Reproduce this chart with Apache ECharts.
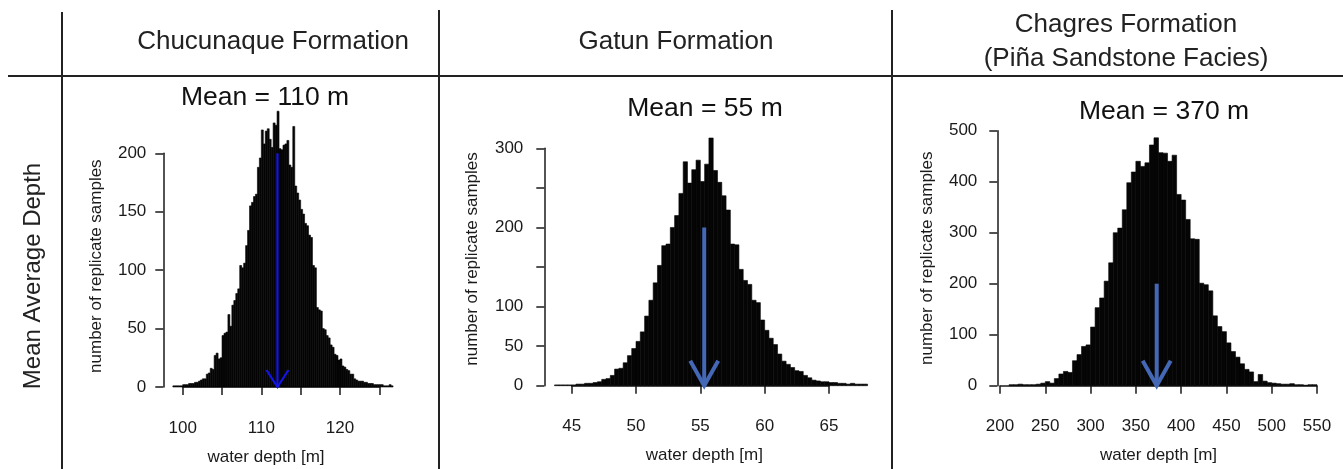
<!DOCTYPE html>
<html><head><meta charset="utf-8">
<script src="https://cdn.jsdelivr.net/npm/echarts@6/dist/echarts.min.js"></script>
<style>html,body{margin:0;padding:0;background:#fff}#c{width:1343px;height:469px}</style>
</head><body><div id="c"></div><script>
// ---------------- data ----------------
const panelHeaders = ['Chucunaque Formation', 'Gatun Formation', 'Chagres Formation\n(Piña Sandstone Facies)'];
const meanLabels = ['Mean = 110 m', 'Mean = 55 m', 'Mean = 370 m'];
const rowLabel = 'Mean Average Depth';
const xTitle = 'water depth [m]';
const yTitle = 'number of replicate samples';

const chucBinStart = 98.75, chucBinWidth = 0.25;
const chucCounts = [1,1,1,1,1, 2,2,2,3,3, 3,4,4,5,6, 7,7,11,12,16, 15,27,29,24,25,
  44,46,47,62,52, 70,74,80,84,104, 102,106,121,134,155, 158,163,165,188,196,
  220,208,219,221,212, 205,226,224,236,204, 203,207,208,211,190, 188,223,172,166,160,
  152,148,140,138,130, 128,104,102,68,66, 65,50,49,44,42, 36,34,28,27,23,
  24,18,17,15,14, 11,11,7,6,5, 5,5,4,4,3, 3,3,2,2,2, 2,2,1,1,1, 2,1];
const gatunBinStart = 43.667, gatunBinWidth = 0.3333;
const gatunCounts = [1,1,1,1,1, 2,2,3,3,4, 5,8,9,13,21, 22,29,38,47,56,
  68,88,108,130,152, 177,179,200,215,243, 283,256,273,285,258, 280,313,272,257,240,
  222,179,178,147,133, 128,108,105,83,70, 60,52,40,31,27, 23,19,18,13,10,
  7,6,5,5,4, 4,3,3,2,3, 2,2,2];
const chagresBinStart = 210, chagresBinWidth = 5;
const chagresCounts = [2,2,3,2,2, 2,3,5,8,5, 14,23,28,26,49, 61,77,80,115,153,
  172,205,241,300,309, 345,398,419,440,430, 437,472,486,457,456, 440,452,375,364,326,
  288,287,201,198,186, 137,116,106,84,67, 56,43,32,27,8, 22,9,6,5,4, 3,3,4,2,2, 1,2,2];

const chucArrow = [112.05, 200];
const gatunArrow = [55.3, 200];
const chagresArrow = [373, 200];

const chucXTicks = [100, 105, 110, 115, 120, 125];
const chucXLabels = [100, 110, 120];
const chucYTicks = [0, 50, 100, 150, 200];
const gatunXTicks = [45, 50, 55, 60, 65];
const gatunYTicks = [0, 50, 100, 150, 200, 250, 300];
const gatunYLabels = [0, 50, 100, 200, 300];
const chagresXTicks = [200, 250, 300, 350, 400, 450, 500, 550];
const chagresYTicks = [0, 100, 200, 300, 400, 500];

// ---------------- layout / style ----------------
const FONT = '"Liberation Sans", Arial, sans-serif';
const INK = '#1a1a1a';
const panels = [
  {grid: {left: 182.7, top: 153.3, width: 196.6, height: 233.7}, xTicks: chucXTicks, xLabels: chucXLabels,
   yTicks: chucYTicks, yLabels: chucYTicks, xOff: 12, yOff: 19.4, yMargin: 17, yNameGap: 58,
   xNamePad: [0, 30, 0, 0], yNamePad: [0, 0, 0, 8],
   start: chucBinStart, bw: chucBinWidth, counts: chucCounts, arrow: chucArrow,
   arrowColor: '#1414e6', arrowW: 2.2, headW: 11, headH: 17},
  {grid: {left: 571.7, top: 148.3, width: 257.3, height: 239.7}, xTicks: gatunXTicks, xLabels: gatunXTicks,
   yTicks: gatunYTicks, yLabels: gatunYLabels, xOff: 11.3, yOff: 27.4, yMargin: 21, yNameGap: 63,
   xNamePad: [0, 0, 0, 8], yNamePad: [0, 0, 0, 16],
   start: gatunBinStart, bw: gatunBinWidth, counts: gatunCounts, arrow: gatunArrow,
   arrowColor: '#4468b6', arrowW: 4, headW: 14, headH: 25},
  {grid: {left: 1000, top: 130.7, width: 317, height: 257.3}, xTicks: chagresXTicks, xLabels: chagresXTicks,
   yTicks: chagresYTicks, yLabels: chagresYTicks, xOff: 11.3, yOff: 2.7, yMargin: 20, yNameGap: 61,
   xNamePad: [0, 0, 0, 0], yNamePad: [0, 0, 0, 0],
   start: chagresBinStart, bw: chagresBinWidth, counts: chagresCounts, arrow: chagresArrow,
   arrowColor: '#4468b6', arrowW: 4, headW: 14, headH: 25}
];

const axisText = {color: INK, fontSize: 17, fontFamily: FONT};
const grids = [], xAxes = [], yAxes = [], series = [];
panels.forEach((p, i) => {
  grids.push(Object.assign({containLabel: false}, p.grid));
  xAxes.push({
    type: 'value', gridIndex: i, min: p.xTicks[0], max: p.xTicks[p.xTicks.length - 1],
    interval: p.xTicks[1] - p.xTicks[0], offset: p.xOff,
    axisLine: {show: true, lineStyle: {color: INK, width: 1.5}},
    axisTick: {show: true, length: 8, lineStyle: {color: INK, width: 1.5}},
    splitLine: {show: false},
    axisLabel: Object.assign({margin: 21, showMinLabel: true, showMaxLabel: true,
      formatter: v => p.xLabels.indexOf(v) >= 0 ? String(v) : ''}, axisText),
    name: xTitle, nameLocation: 'middle', nameGap: 50,
    nameTextStyle: Object.assign({padding: p.xNamePad}, axisText)
  });
  yAxes.push({
    type: 'value', gridIndex: i, min: p.yTicks[0], max: p.yTicks[p.yTicks.length - 1],
    interval: p.yTicks[1] - p.yTicks[0], offset: p.yOff,
    axisLine: {show: true, lineStyle: {color: INK, width: 1.5}},
    axisTick: {show: true, length: 8, lineStyle: {color: INK, width: 1.5}},
    splitLine: {show: false},
    axisLabel: Object.assign({margin: p.yMargin, showMinLabel: true, showMaxLabel: true,
      formatter: v => p.yLabels.indexOf(v) >= 0 ? String(v) : ''}, axisText),
    name: yTitle, nameLocation: 'middle', nameRotate: 90, nameGap: p.yNameGap,
    nameTextStyle: Object.assign({padding: p.yNamePad}, axisText)
  });
  series.push({
    type: 'custom', xAxisIndex: i, yAxisIndex: i, clip: false, silent: true,
    encode: {x: [0, 1], y: 2},
    data: p.counts.map((c, k) => [p.start + k * p.bw, p.start + (k + 1) * p.bw, c]),
    renderItem: function (params, api) {
      const a = api.coord([api.value(0), api.value(2)]);
      const b = api.coord([api.value(1), 0]);
      return {type: 'rect', shape: {x: a[0], y: a[1], width: b[0] - a[0], height: b[1] - a[1]},
        style: {fill: '#050505', stroke: '#050505', lineWidth: 0.6}};
    }
  });
  series.push({
    type: 'custom', xAxisIndex: i, yAxisIndex: i, clip: false, silent: true, z: 5,
    data: [p.arrow],
    renderItem: function (params, api) {
      const t = api.coord([api.value(0), api.value(1)]);
      const b = api.coord([api.value(0), 0]);
      return {type: 'group', children: [
        {type: 'line', shape: {x1: t[0], y1: t[1], x2: b[0], y2: b[1]},
          style: {stroke: p.arrowColor, lineWidth: p.arrowW}},
        {type: 'polyline', shape: {points: [[b[0] - p.headW, b[1] - p.headH], [b[0], b[1]], [b[0] + p.headW, b[1] - p.headH]]},
          style: {stroke: p.arrowColor, lineWidth: p.arrowW, fill: null}}
      ]};
    }
  });
});

const lineStyle = {stroke: '#222', lineWidth: 2};
const headStyle = {fill: '#222', font: '26px ' + FONT, textAlign: 'center', textVerticalAlign: 'middle'};
const rowStyle = {fill: '#222', font: '24px ' + FONT, textAlign: 'center', textVerticalAlign: 'middle'};
const meanStyle = {fill: '#111', font: '26.5px ' + FONT, textAlign: 'center', textVerticalAlign: 'middle'};
const graphic = [
  {type: 'line', shape: {x1: 8, y1: 76, x2: 1343, y2: 76}, style: lineStyle},
  {type: 'line', shape: {x1: 62, y1: 12, x2: 62, y2: 469}, style: lineStyle},
  {type: 'line', shape: {x1: 439, y1: 10, x2: 439, y2: 469}, style: lineStyle},
  {type: 'line', shape: {x1: 892, y1: 10, x2: 892, y2: 469}, style: lineStyle},
  {type: 'text', x: 273, y: 42, style: Object.assign({text: panelHeaders[0]}, headStyle)},
  {type: 'text', x: 676, y: 42, style: Object.assign({text: panelHeaders[1]}, headStyle)},
  {type: 'text', x: 1126, y: 42, style: Object.assign({text: panelHeaders[2], lineHeight: 34}, headStyle)},
  {type: 'text', x: 33, y: 276, rotation: Math.PI / 2, style: Object.assign({text: rowLabel}, rowStyle)},
  {type: 'text', x: 265, y: 98, style: Object.assign({text: meanLabels[0]}, meanStyle)},
  {type: 'text', x: 705, y: 109, style: Object.assign({text: meanLabels[1]}, meanStyle)},
  {type: 'text', x: 1164, y: 112, style: Object.assign({text: meanLabels[2]}, meanStyle)}
];

const chart = echarts.init(document.getElementById('c'), null, {renderer: 'canvas'});
chart.setOption({
  animation: false, backgroundColor: '#fff',
  grid: grids, xAxis: xAxes, yAxis: yAxes, series: series, graphic: graphic
});
</script></body></html>
